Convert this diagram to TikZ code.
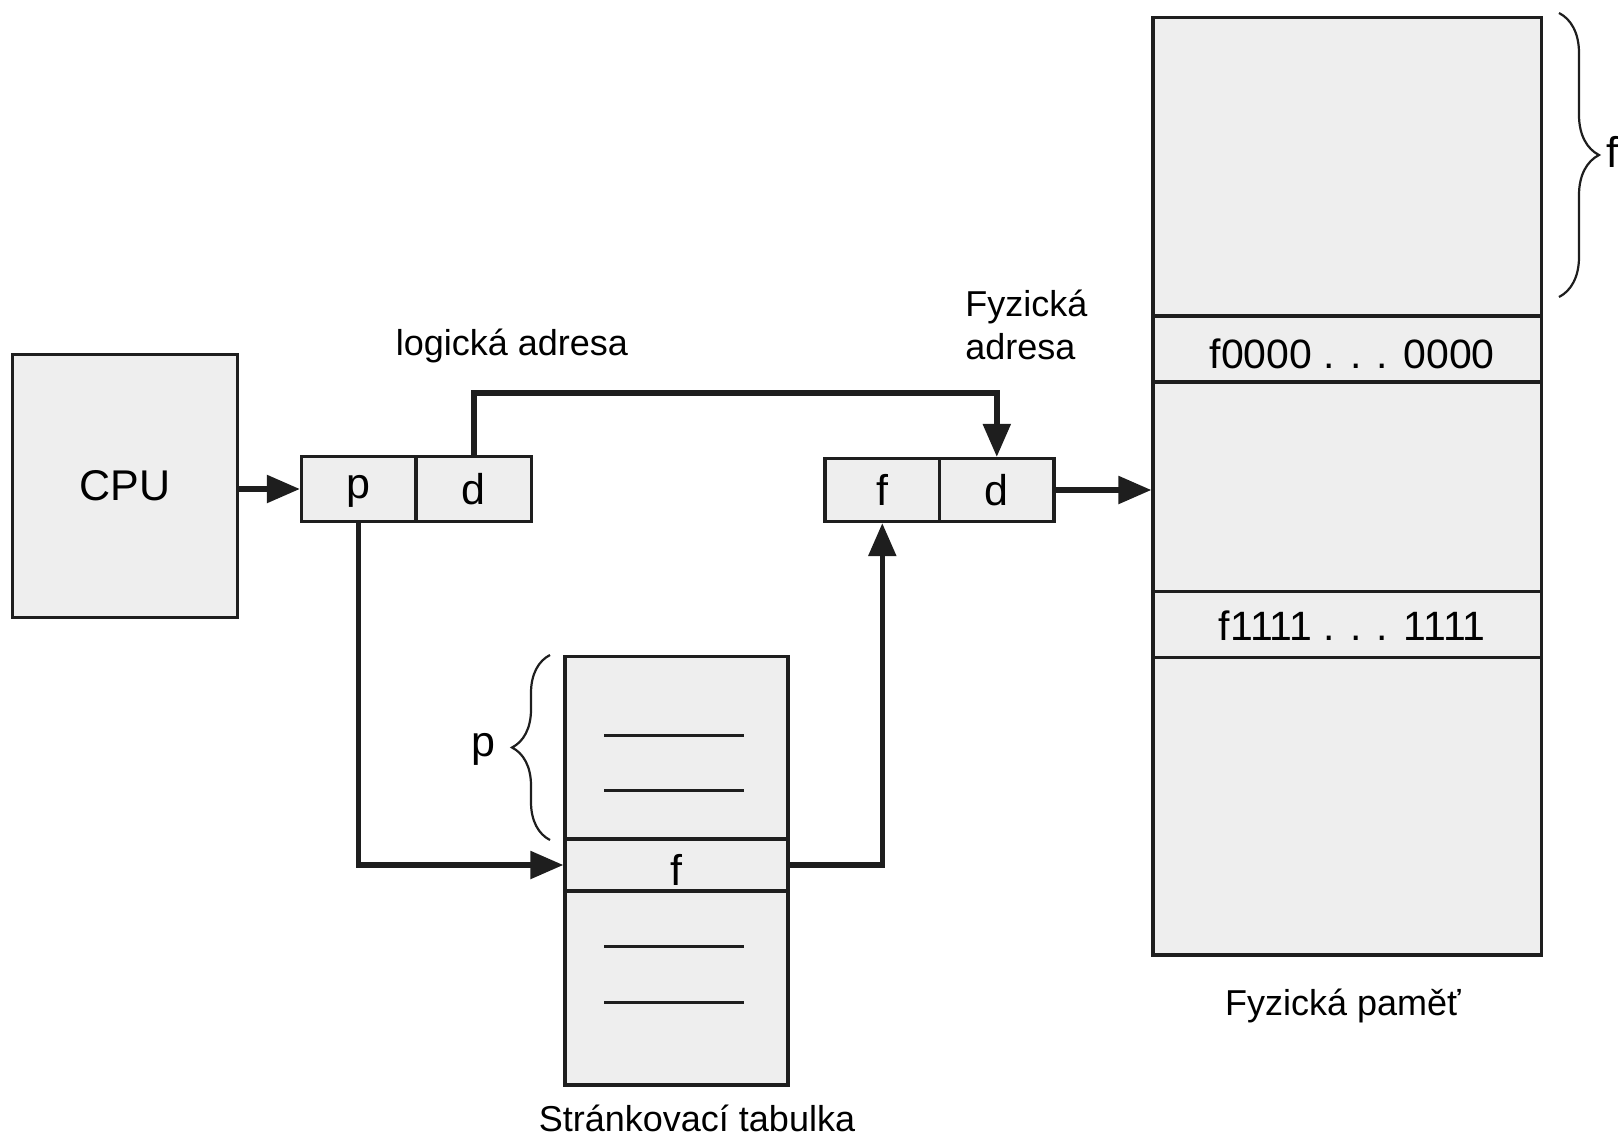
\documentclass[tikz,border=0pt]{standalone}
\usepackage{fontspec}
\setmainfont{Liberation Sans}
\usetikzlibrary{arrows.meta,decorations.pathreplacing}
\definecolor{cellgray}{HTML}{EEEEEE}
\definecolor{inkline}{HTML}{1E1E1E}

\begin{document}
\begin{tikzpicture}[x=0.5pt,y=-0.5pt,
  cell/.style={draw=inkline,line width=1.6pt,fill=cellgray,inner sep=0pt,
               font=\fontsize{21.5}{24}\selectfont},
  memtext/.style={font=\fontsize{20.5}{24}\selectfont},
  caption/.style={font=\fontsize{18}{21}\selectfont,inner sep=0pt},
  flow/.style={draw=inkline,line width=2.7pt,
               -{Triangle[length=16.5pt,width=13.5pt]}},
  rule/.style={draw=inkline,line width=1.5pt},
  curly/.style={draw=inkline,line width=1.1pt,decorate}]

  % page frame
  \useasboundingbox (0,0) rectangle (1619,1136);

  % processor
  \node[cell,minimum width=112.5pt,minimum height=131.75pt] (cpu) at (125,486) {\raisebox{1pt}{CPU}};

  % logical address  p | d
  \node[cell,minimum width=57.25pt,minimum height=32.5pt] (lp) at (358.75,489) {\smash{\raisebox{-4.5pt}{p}}};
  \node[cell,minimum width=57.85pt,minimum height=32.5pt] (ld) at (473.85,489) {d};

  % physical address  f | d
  \node[cell,minimum width=57.3pt,minimum height=31.5pt] (pf) at (882.3,490) {f};
  \node[cell,minimum width=57.2pt,minimum height=31.5pt] (pd) at (996.8,490) {d};

  % physical memory, stacked frames
  \node[cell,minimum width=194.25pt,minimum height=149.25pt] (m1) at (1347.25,166.75) {};
  \node[cell,memtext,minimum width=194.25pt,minimum height=33pt] (m0) at (1347.25,349) {\smash{\raisebox{-9.8pt}{\hspace{5pt}f0000 . . . 0000}}};
  \node[cell,minimum width=194.25pt,minimum height=104.8pt] (m2) at (1347.25,486.8) {};
  \node[cell,memtext,minimum width=194.25pt,minimum height=33pt] (mf) at (1347.25,624.65) {\smash{\raisebox{-7.8pt}{\hspace{5pt}f1111 . . . 1111}}};
  \node[cell,minimum width=194.25pt,minimum height=148.65pt] (m3) at (1347.25,806.35) {};

  % page table
  \node[cell,minimum width=111.5pt,minimum height=91.25pt] (pt1) at (676.5,747.75) {};
  \node[cell,minimum width=111.5pt,minimum height=26pt] (ptf) at (676.5,865) {\smash{\raisebox{-10pt}{f}}};
  \node[cell,minimum width=111.5pt,minimum height=97pt] (pt2) at (676.5,988) {};

  % entries in the page table
  \draw[rule] (604,735) -- (744,735);
  \draw[rule] (604,790) -- (744,790);
  \draw[rule] (604,946) -- (744,946);
  \draw[rule] (604,1002) -- (744,1002);

  % captions
  \node[caption] (logcap) at (512,346) {logická adresa};
  \node[caption,anchor=west,align=left] (phycap) at (965,325)
       {Fyzická\\[0.5pt]adresa};
  \node[caption] (memcap) at (1343,1006) {Fyzická paměť};
  \node[caption] (ptcap) at (697,1118) {Stránkovací tabulka};

  % braces
  \coordinate (fbtop) at (1559,13);
  \coordinate (fbbot) at (1559,297);
  \draw[curly,decoration={brace,amplitude=20pt}] (fbtop) -- (fbbot);
  \node[cell,draw=none,fill=none,anchor=west] (flabel) at (1605,152) {f};

  \coordinate (pbbot) at (550,840);
  \coordinate (pbtop) at (550,655);
  \draw[curly,decoration={brace,amplitude=19pt}] (pbbot) -- (pbtop);
  \node[cell,draw=none,fill=none] (plabel) at (483,749) {p};

  % connectors
  \draw[flow] (cpu.east |- lp.west) -- (lp.west);
  \draw[flow] (ld.north) -- ++(0,-62) -| (pd.north);
  \draw[flow] (lp.south) |- (ptf.west);
  \draw[flow] (ptf.east) -| (pf.south);
  \draw[flow] (pd.east) -- (pd.east -| m2.west);
\end{tikzpicture}
\end{document}
